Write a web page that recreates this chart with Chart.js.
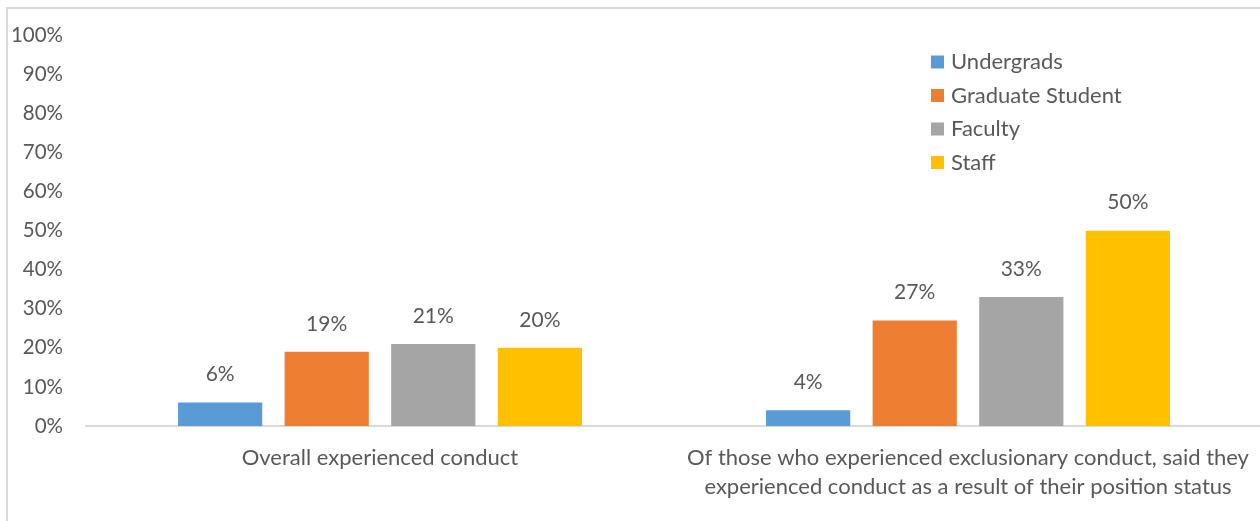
<!DOCTYPE html>
<html>
<head>
<meta charset="utf-8">
<script src="https://cdn.jsdelivr.net/npm/chart.js@4.4.1/dist/chart.umd.min.js"></script>
<style>
  html, body { margin: 0; padding: 0; background: #fff; overflow: hidden; }
  #wrap { position: relative; width: 1260px; height: 521px; overflow: hidden; }
  #frame { position: absolute; left: 6px; top: 7px; width: 1400px; height: 600px;
           border: 2px solid #d9d9d9; box-sizing: border-box; }
  #grafico { position: absolute; left: 0; top: 0; }
</style>
</head>
<body>
<div id="wrap">
  <div id="frame"></div>
  <canvas id="grafico" width="1270" height="521"></canvas>
</div>
<script>
// categorias e valores (%)
const categorias = [
  "Overall experienced conduct",
  ["Of those who experienced exclusionary conduct, said they",
   "experienced conduct as a result of their position status"]
];
const undergrads = [6, 4];
const graduados = [19, 27];
const faculty = [21, 33];
const staff = [20, 50];
const ticksY = [0, 10, 20, 30, 40, 50, 60, 70, 80, 90, 100];

const fonte = "Lato, 'Open Sans', sans-serif";
const cinzaTexto = "#595959";

// rótulos de valor acima das barras
const rotulos = {
  id: "rotulos",
  afterDatasetsDraw(chart) {
    const ctx = chart.ctx;
    ctx.save();
    ctx.font = "21px " + fonte;
    ctx.fillStyle = cinzaTexto;
    ctx.textAlign = "center";
    ctx.textBaseline = "middle";
    chart.data.datasets.forEach((ds, i) => {
      chart.getDatasetMeta(i).data.forEach((bar, j) => {
        ctx.fillText(ds.data[j] + "%", bar.x, bar.y - 28);
      });
    });
    ctx.restore();
  }
};

// legenda vertical dentro da área do gráfico
const legenda = {
  id: "legenda",
  afterDraw(chart) {
    const ctx = chart.ctx;
    ctx.save();
    ctx.font = "22px " + fonte;
    ctx.textBaseline = "middle";
    chart.data.datasets.forEach((ds, i) => {
      const y = 62 + i * 33.5;
      ctx.fillStyle = ds.backgroundColor;
      ctx.fillRect(931, y - 6.5, 13, 13);
      ctx.fillStyle = cinzaTexto;
      ctx.fillText(ds.label, 951, y);
    });
    ctx.restore();
  }
};

const grafico = new Chart(document.getElementById("grafico"), {
  type: "bar",
  data: {
    labels: categorias,
    datasets: [
      { label: "Undergrads", data: undergrads, backgroundColor: "#5B9BD5" },
      { label: "Graduate Student", data: graduados, backgroundColor: "#ED7D31" },
      { label: "Faculty", data: faculty, backgroundColor: "#A5A5A5" },
      { label: "Staff", data: staff, backgroundColor: "#FFC000" },
    ],
  },
  options: {
    responsive: false,
    animation: false,
    devicePixelRatio: 1,
    layout: { padding: { top: 32, right: 8, left: 0, bottom: 0 } },
    datasets: {
      bar: { categoryPercentage: 0.725, barPercentage: 0.79 }
    },
    plugins: {
      legend: { display: false },
      tooltip: { enabled: false },
    },
    scales: {
      x: {
        grid: { display: false, drawTicks: false },
        border: { display: true, color: "#d9d9d9", width: 2 },
        ticks: {
          color: cinzaTexto,
          font: { family: fonte, size: 22, lineHeight: 1.33 },
          padding: 17,
          maxRotation: 0,
          autoSkip: false,
        },
        afterFit(scale) { scale.height = 95; },
      },
      y: {
        min: 0,
        max: 100,
        afterBuildTicks(scale) { scale.ticks = ticksY.map((v) => ({ value: v })); },
        grid: { display: false, drawTicks: false },
        border: { display: false },
        ticks: {
          color: cinzaTexto,
          font: { family: fonte, size: 20.5 },
          padding: 23,
          callback: (v) => v + "%",
        },
        afterFit(scale) { scale.width = 86; },
      },
    },
  },
  plugins: [rotulos, legenda],
});
</script>
</body>
</html>
